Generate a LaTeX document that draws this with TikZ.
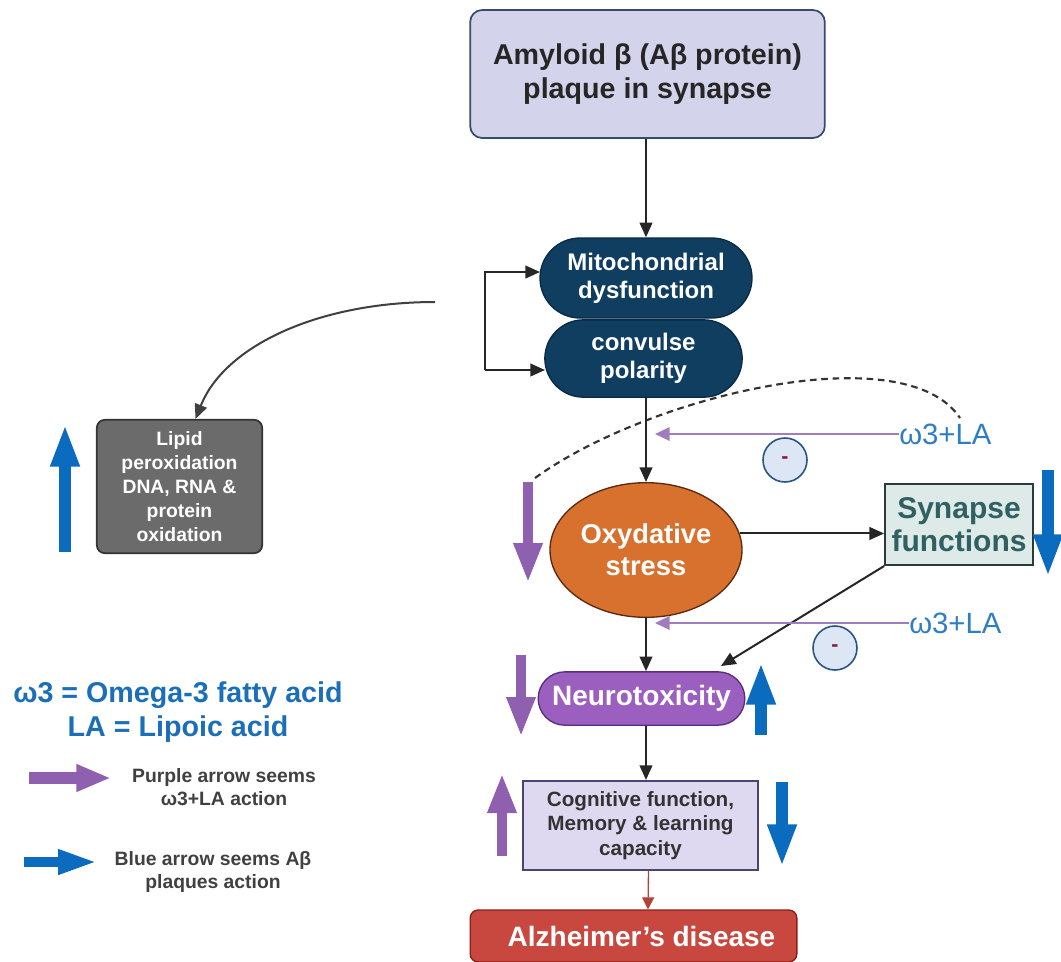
\documentclass[tikz,border=0pt]{standalone}
\usepackage{fontspec}
\setmainfont{Liberation Sans}
\usetikzlibrary{arrows.meta,shapes.misc,shapes.geometric,calc}
\definecolor{amyfill}{HTML}{D3D3EB}
\definecolor{amydraw}{HTML}{3A4A6A}
\definecolor{navy}{HTML}{0F3E61}
\definecolor{navydraw}{HTML}{0A2A45}
\definecolor{lipgray}{HTML}{6B6B6B}
\definecolor{oxfill}{HTML}{D8702E}
\definecolor{oxdraw}{HTML}{5A2A10}
\definecolor{synfill}{HTML}{DDEAE8}
\definecolor{syntext}{HTML}{2F6062}
\definecolor{syndraw}{HTML}{2B3B3B}
\definecolor{neufill}{HTML}{9B5FC0}
\definecolor{neudraw}{HTML}{5B2C7B}
\definecolor{cogfill}{HTML}{DED9F0}
\definecolor{cogdraw}{HTML}{4B4470}
\definecolor{alzfill}{HTML}{C8483F}
\definecolor{alzdraw}{HTML}{8A1F1A}
\definecolor{wtext}{HTML}{2E7EC4}
\definecolor{legblue}{HTML}{1B6FB8}
\definecolor{inhpurple}{HTML}{A07CC0}
\definecolor{bigpurple}{HTML}{9060B0}
\definecolor{bigblue}{HTML}{0A6BBF}
\definecolor{circfill}{HTML}{DCE6F5}
\definecolor{circdraw}{HTML}{2A5580}
\definecolor{minusred}{HTML}{8B1A3A}
\tikzset{
  conn/.style={line width=1.5pt, black!85, -{Triangle[length=11pt,width=9.5pt]}},
  inh/.style={line width=1.8pt, inhpurple, -{Triangle[length=11pt,width=10pt]}},
  fatpurple/.style={line width=8pt, bigpurple, -{Triangle[length=30pt,width=20pt]}},
  fatblue/.style={line width=8.5pt, bigblue, -{Triangle[length=32pt,width=20pt]}},
  pill/.style={rounded rectangle, inner sep=0pt, align=center, font=\bfseries},
  box/.style={rectangle, inner sep=0pt, align=center, font=\bfseries},
  wlabel/.style={text=wtext, font=\fontsize{22}{24}\selectfont, anchor=west, inner sep=0pt},
  minuscirc/.style={circle, draw=circdraw, line width=1.2pt, fill=circfill, minimum size=33pt, inner sep=0pt, text=minusred, font=\bfseries\fontsize{16}{16}\selectfont},
  legtext/.style={align=center, text=black!75, font=\bfseries\fontsize{14.5}{17.5}\selectfont},
}
\begin{document}
\begin{tikzpicture}[x=0.75pt,y=-0.75pt]
\useasboundingbox (0,0) rectangle (1061,961);

% main nodes
\node[box, rounded corners=9pt, draw=amydraw, line width=1.3pt, fill=amyfill,
  minimum width=266pt, minimum height=96pt, font=\bfseries\fontsize{21.5}{25}\selectfont, text=black!85]
  (amy) at (647.5,74) {Amyloid β (Aβ protein)\\plaque in synapse};
\node[pill, draw=navydraw, line width=1pt, fill=navy, text=white,
  minimum width=159pt, minimum height=60pt, font=\bfseries\fontsize{18}{21}\selectfont]
  (mito) at (646,278) {Mitochondrial\\dysfunction};
\node[pill, draw=navydraw, line width=1pt, fill=navy, text=white,
  minimum width=148pt, minimum height=58pt, font=\bfseries\fontsize{18}{21}\selectfont]
  (conv) at (643.5,358.5) {convulse\\polarity};
\node[box, rounded corners=6pt, draw=black!80, line width=1.3pt, fill=lipgray, text=white,
  minimum width=124pt, minimum height=100pt, font=\bfseries\fontsize{14.5}{18}\selectfont]
  (lipid) at (179.5,486.5) {Lipid\\peroxidation\\DNA, RNA \&\\protein\\oxidation};
\node[ellipse, draw=oxdraw, line width=1pt, fill=oxfill, text=white, inner sep=0pt, align=center,
  minimum width=144pt, minimum height=101pt, font=\bfseries\fontsize{20.5}{24}\selectfont]
  (ox) at (646,550) {Oxydative\\stress};
\node[box, draw=syndraw, line width=1.3pt, fill=synfill, text=syntext,
  minimum width=111pt, minimum height=61pt, font=\bfseries\fontsize{22.5}{25}\selectfont]
  (syn) at (959,524.5) {Synapse\\functions};
\node[pill, draw=neudraw, line width=1pt, fill=neufill, text=white,
  minimum width=155pt, minimum height=40pt, font=\bfseries\fontsize{21}{23}\selectfont]
  (neuro) at (641.5,698.5) {Neurotoxicity};
\node[box, draw=cogdraw, line width=1.3pt, fill=cogfill, text=black!80,
  minimum width=176pt, minimum height=67pt, font=\bfseries\fontsize{15.5}{18.5}\selectfont]
  (cog) at (640.5,825.5) {Cognitive function,\\Memory \& learning\\capacity};
\node[box, rounded corners=6pt, draw=alzdraw, line width=1pt, fill=alzfill, text=white,
  minimum width=245pt, minimum height=39pt, font=\bfseries\fontsize{21}{23}\selectfont]
  (alz) at (633.5,936) {\hspace*{12pt}Alzheimer's disease};

% ω3+LA labels and inhibition
\node[wlabel] (w1) at (899,434) {ω3+LA};
\node[wlabel] (w2) at (909,623) {ω3+LA};
\coordinate (i1) at (655,434);
\coordinate (i2) at (655,623);
\node[minuscirc] (m1) at (785,460) {-};
\node[minuscirc] (m2) at (835,648) {-};

% dashed feedback curve
\coordinate (d1) at (535,478);
\coordinate (d2) at (960,418);
\draw[line width=1.6pt, black!80, dash pattern=on 5pt off 3.5pt]
  (d1) .. controls (650,395) and (905,335) .. (d2);

% connectors
\draw[conn] (amy.south -| mito.north) -- (mito.north);
\coordinate (b1) at (485,272);
\coordinate (b2) at (485,370);
\coordinate (b1e) at (540,272);
\coordinate (b2e) at (545,370);
\draw[conn] (b2) -- (b1) -- (b1e);
\draw[conn] (b2) -- (b2e);
\coordinate (cs) at (435,302);
\draw[line width=1.5pt, black!75, -{Triangle[length=11pt,width=9.5pt]}]
  (cs) .. controls (320,302) and (225,345) .. ($(lipid.north)+(16,0)$);
\draw[conn] (conv.south -| ox.north) -- (ox.north);
\draw[inh] (w1.west) -- (i1);
\draw[conn] (ox.10) -- (ox.10 -| syn.west);
\coordinate (nt) at (721,666);
\draw[conn] (syn.south west) -- (nt);
\draw[conn] (ox.south) -- (ox.south |- neuro.north);
\draw[inh] (w2.west) -- (i2);
\draw[conn] (ox.south |- neuro.south) -- (ox.south |- cog.north);
\draw[line width=1pt, alzfill!90!black, -{Triangle[length=9pt,width=9pt]}]
  ($(cog.south)+(8,0)$) -- ($(alz.north)+(14.5,0)$);

% fat arrows (blue = Aβ action, purple = ω3+LA action)
\draw[fatblue] (65,552) -- (65,424);
\draw[fatpurple] (528,482) -- (528,583);
\draw[fatblue] (1048,470) -- (1048,577);
\draw[fatpurple] (521,655) -- (521,737);
\draw[fatblue] (761,735) -- (761,662);
\draw[fatpurple] (502,856) -- (502,773);
\draw[fatblue] (782,782) -- (782,867);

% legend
\node[text=legblue, font=\bfseries\fontsize{21.5}{25}\selectfont, align=center] (leg1) at (178,712)
  {ω3 = Omega-3 fatty acid\\LA = Lipoic acid};
\draw[line width=9pt, bigpurple, -{Triangle[length=26pt,width=19pt]}] (29,778) -- (111,778);
\node[legtext] (legp) at (224,787) {Purple arrow seems\\ω3+LA action};
\draw[line width=8pt, bigblue, -{Triangle[length=30pt,width=17pt]}] (24,862) -- (98,862);
\node[legtext] (legb) at (213,872) {Blue arrow seems Aβ\\plaques action};
\end{tikzpicture}
\end{document}
